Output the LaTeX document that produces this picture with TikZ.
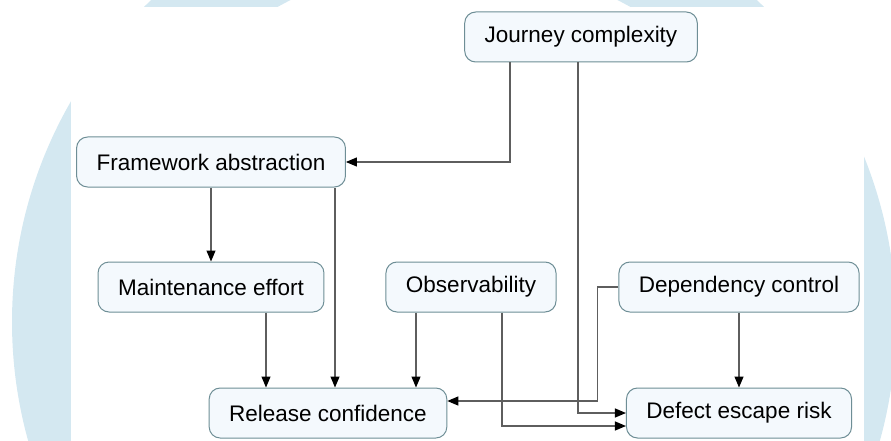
\documentclass[tikz,border=0pt]{standalone}
\usepackage{fontspec}
\setmainfont{Liberation Sans}
\usetikzlibrary{arrows.meta,positioning}
\definecolor{ringblue}{HTML}{D4E8F1}
\definecolor{boxfill}{HTML}{F4F9FD}
\definecolor{boxline}{HTML}{6E8E96}
\definecolor{linkgray}{HTML}{5E5E5E}

\begin{document}
\begin{tikzpicture}[x=1pt,y=-1pt,
    factor/.style={rectangle, rounded corners=11pt, draw=boxline, fill=boxfill, line width=1pt,
        minimum height=50pt, inner xsep=20pt, font=\fontsize{22.5}{26}\selectfont, text=black},
    link/.style={draw=linkgray, line width=1.2pt, -{Triangle[length=11pt,width=9pt,color=black]}}]
    \useasboundingbox (0,0) rectangle (891,441);
    \clip (0,0) rectangle (891,441);
    \fill[ringblue, even odd rule] (454,322) circle (442pt) (454,322) circle (361pt);
    \fill[white] (71,7) rectangle (864,441);

    \node[factor] (jc) at (581,37) {Journey complexity};
    \node[factor] (fa) at (211,162) {Framework abstraction};
    \node[factor] (me) at (211,287) {Maintenance effort};
    \node[factor] (ob) at (471,287) {Observability};
    \node[factor] (dc) at (739,287) {Dependency control};
    \node[factor] (rc) at (328,413) {Release confidence};
    \node[factor] (de) at (739,413) {Defect escape risk};

    \draw[link] ([xshift=-71pt]jc.south) |- (fa.east);
    \draw[link] ([xshift=-3pt]jc.south) |- (de.west);
    \draw[link] (fa) -- (me);
    \draw[link] ([xshift=124pt]fa.south) -- ([xshift=7pt]rc.north);
    \draw[link] ([xshift=55pt]me.south) -- ([xshift=-62pt]rc.north);
    \draw[link] ([xshift=-55pt]ob.south) -- ([xshift=88pt]rc.north);
    \draw[link] ([xshift=31pt]ob.south) |- ([yshift=-13pt]de.west);
    \draw[link] (dc.west) -- ++(-21,0) |- ([yshift=12pt]rc.east);
    \draw[link] (dc) -- (de);
\end{tikzpicture}
\end{document}
